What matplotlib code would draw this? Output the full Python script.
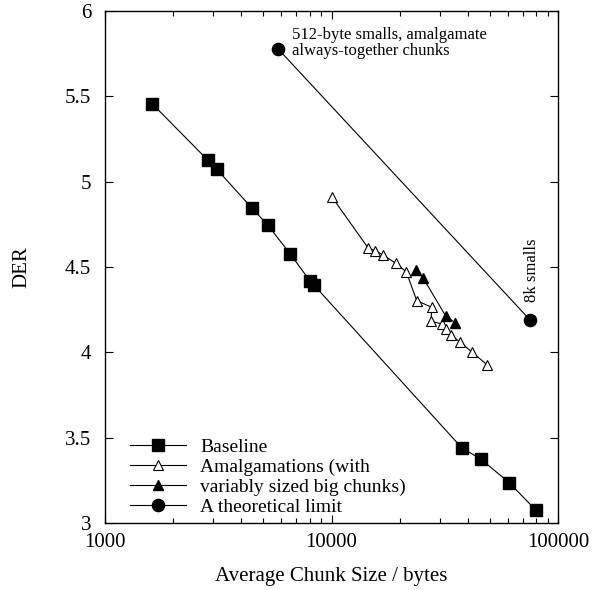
import matplotlib
matplotlib.use("Agg")
import matplotlib.pyplot as plt
from matplotlib.ticker import FixedLocator, LogLocator, FormatStrFormatter, NullFormatter

plt.rcParams['font.family'] = ['Liberation Serif', 'DejaVu Serif']
plt.rcParams['font.size'] = 15

# values
baseline_x = [1620, 2840, 3110, 4440, 5230, 6560, 8040, 8340, 37570, 45570, 60950, 79700]
baseline_y = [5.455, 5.127, 5.074, 4.847, 4.746, 4.578, 4.418, 4.396, 3.441, 3.375, 3.236, 3.076]

amalg_x = [10020, 14540, 15560, 16830, 19200, 21390, 23780, 27700, 27500,
           30850, 31930, 33700, 37050, 41840, 48730]
amalg_y = [4.912, 4.610, 4.596, 4.572, 4.522, 4.472, 4.303, 4.264, 4.182,
           4.166, 4.137, 4.102, 4.059, 4.000, 3.926]

varsize_x = [23610, 25430, 31930, 35110]
varsize_y = [4.482, 4.434, 4.213, 4.174]

limit_x = [5820, 75200]
limit_y = [5.777, 4.19]

x_ticks = [1000, 10000, 100000]
y_ticks = [3, 3.5, 4, 4.5, 5, 5.5, 6]

fig = plt.figure(figsize=(5.92, 5.90), dpi=100)
ax = fig.add_axes([105 / 592, 1 - 523 / 590, 453 / 592, 512 / 590])

lw = 0.8
ax.plot(baseline_x, baseline_y, '-', color='black', lw=lw, marker='s', ms=8.4,
        label='Baseline')
ax.plot(amalg_x, amalg_y, '-', color='black', lw=lw, marker='^', ms=7,
        mfc='white', mec='black', mew=0.8, label='Amalgamations (with')
ax.plot(varsize_x, varsize_y, '-', color='black', lw=lw, marker='^', ms=7.5,
        label='variably sized big chunks)')
ax.plot(limit_x, limit_y, '-', color='black', lw=lw, marker='o', ms=8.8,
        label='A theoretical limit')

ax.set_xscale('log')
ax.set_xlim(1000, 100000)
ax.set_ylim(3, 6)
ax.xaxis.set_major_locator(FixedLocator(x_ticks))
ax.xaxis.set_major_formatter(FormatStrFormatter('%d'))
ax.xaxis.set_minor_locator(LogLocator(base=10, subs=range(2, 10)))
ax.xaxis.set_minor_formatter(NullFormatter())
ax.yaxis.set_major_locator(FixedLocator(y_ticks))
ax.yaxis.set_major_formatter(FormatStrFormatter('%g'))
ax.tick_params(which='both', direction='in', top=True, right=True, width=0.8)
ax.tick_params(which='major', length=6)
ax.tick_params(which='minor', length=3.5)
ax.tick_params(axis='x', pad=7)
ax.tick_params(axis='y', pad=10)
for s in ax.spines.values():
    s.set_linewidth(1.0)

ax.set_xlabel('Average Chunk Size / bytes', labelpad=11)
ax.set_ylabel('DER', labelpad=24)

ax.annotate('512-byte smalls, amalgamate\nalways-together chunks',
            xy=(limit_x[0], limit_y[0]), xytext=(9.6, 4.5), textcoords='offset points',
            ha='left', va='center', fontsize=12, linespacing=0.95)
ax.annotate('8k smalls', xy=(limit_x[1], limit_y[1]), xytext=(1.2, 13),
            textcoords='offset points', rotation=90, ha='center', va='bottom',
            fontsize=12)

ax.legend(loc='lower left', bbox_to_anchor=(0.055, 0.014), frameon=False,
          borderpad=0, borderaxespad=0, handlelength=2.9, handletextpad=0.7,
          labelspacing=0.12, fontsize=14)

fig.savefig('out.png', dpi=100)
